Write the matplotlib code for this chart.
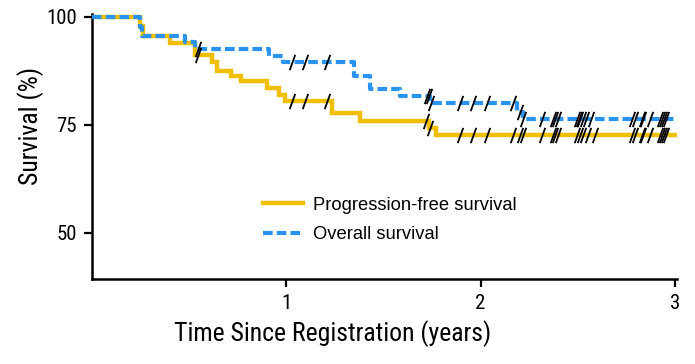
import numpy as np
import matplotlib
matplotlib.use("Agg")
import matplotlib.pyplot as plt
from matplotlib.path import Path

# ---- data ----
pfs_times = [0, 0.25, 0.265, 0.405, 0.53, 0.62, 0.645, 0.715, 0.77, 0.90, 0.965, 0.995, 1.235, 1.38, 1.735, 1.77, 3.0]
pfs_surv = [100, 97.8, 95.4, 93.9, 91.1, 89.5, 87.4, 86.2, 85.0, 83.5, 81.9, 80.4, 77.7, 75.8, 74.3, 72.7, 72.7]

os_times = [0, 0.25, 0.262, 0.48, 0.53, 0.915, 0.985, 1.35, 1.43, 1.585, 1.74, 2.19, 2.22, 3.0]
os_surv = [100, 97.7, 95.4, 94.2, 92.4, 91.0, 89.6, 86.2, 83.2, 81.6, 80.0, 78.0, 76.3, 76.3]

pfs_censor = [0.545, 1.031, 1.098, 1.211, 1.722, 1.742, 1.895, 1.961, 2.033, 2.167, 2.205, 2.22,
              2.316, 2.373, 2.383, 2.398, 2.496, 2.512, 2.527, 2.553, 2.589,
              2.779, 2.794, 2.830, 2.835, 2.872, 2.923, 2.933, 2.943, 2.953]
os_censor = [0.545, 1.031, 1.098, 1.211, 1.725, 1.735, 1.745, 1.895, 1.961, 2.033, 2.167, 2.205, 2.22,
             2.316, 2.373, 2.383, 2.398, 2.496, 2.505, 2.512, 2.527, 2.540, 2.566,
             2.779, 2.794, 2.830, 2.835, 2.872, 2.923, 2.933, 2.943, 2.953]

x_ticks = [1, 2, 3]
y_ticks = [50, 75, 100]
labels = ["Progression-free survival", "Overall survival"]

YELLOW = "#F0C000"
BLUE = "#2A93F0"

cond = ["Roboto Condensed", "IBM Plex Sans Condensed", "DejaVu Sans"]
reg = ["Liberation Sans", "DejaVu Sans"]


def level_at(times, surv, t):
    idx = np.searchsorted(np.asarray(times), t, side="right") - 1
    return np.asarray(surv)[idx]


fig = plt.figure(figsize=(6.95, 3.64), dpi=100)
ax = fig.add_axes([91.5 / 695, 1 - 279 / 364, (677 - 91.5) / 695, (279 - 14) / 364])

ax.step(pfs_times, pfs_surv, where="post", color=YELLOW, lw=3.2, label=labels[0],
        solid_joinstyle="miter", zorder=2)
ax.step(os_times, os_surv, where="post", color=BLUE, lw=3.0, ls=(0, (2.3, 1.0)),
        label=labels[1], zorder=3)

tick = Path([(-0.18, -0.5), (0.18, 0.5)], [Path.MOVETO, Path.LINETO])
ax.plot(pfs_censor, level_at(pfs_times, pfs_surv, pfs_censor), ls="none", marker=tick,
        ms=11, mec="black", mew=1.3, zorder=4)
ax.plot(os_censor, level_at(os_times, os_surv, os_censor), ls="none", marker=tick,
        ms=11, mec="black", mew=1.3, zorder=4)

ax.set_xlim(0, 3.01)
ax.set_ylim(39.35, 100.6)
ax.set_xticks(x_ticks)
ax.set_yticks(y_ticks)
ax.set_xticklabels([str(v) for v in x_ticks], family=cond, fontsize=15)
ax.set_yticklabels([str(v) for v in y_ticks], family=cond, fontsize=15)
ax.tick_params(direction="out", length=5.5, width=1.6, pad=5, colors="black")
for s in ["top", "right"]:
    ax.spines[s].set_visible(False)
for s in ["left", "bottom"]:
    ax.spines[s].set_linewidth(1.8)

ax.set_xlabel("Time Since Registration (years)", family=cond, fontsize=18.5)
ax.set_ylabel("Survival (%)", family=cond, fontsize=18.5)
ax.xaxis.set_label_coords(0.4125, -0.155)
ax.yaxis.set_label_coords(-0.081, 0.578)

leg = ax.legend(loc="upper left", bbox_to_anchor=(0.293, 0.311), frameon=False,
                prop={"family": reg, "size": 13.2}, handlelength=2.2, handletextpad=0.5,
                labelspacing=0.7, borderpad=0, borderaxespad=0)

fig.savefig("out.png", dpi=100)
